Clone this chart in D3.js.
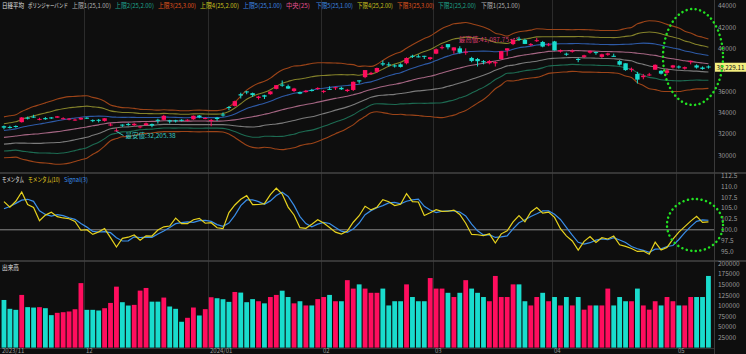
<!DOCTYPE html>
<meta charset="utf-8">
<script src="https://d3js.org/d3.v7.min.js"></script>
<style>
  body { margin: 0; background: #0e0e0e; }
  text { font-family: "Noto Sans CJK JP", "Noto Sans", sans-serif; }
</style>
<div id="chart"></div>
<script>

// trading days shown (2023/11/10 .. 2024/05/10)
var dates = [
  "2023-11-10","2023-11-13","2023-11-14","2023-11-15","2023-11-16","2023-11-17","2023-11-20","2023-11-21","2023-11-22","2023-11-24",
  "2023-11-27","2023-11-28","2023-11-29","2023-11-30","2023-12-01","2023-12-04","2023-12-05","2023-12-06","2023-12-07","2023-12-08",
  "2023-12-11","2023-12-12","2023-12-13","2023-12-14","2023-12-15","2023-12-18","2023-12-19","2023-12-20","2023-12-21","2023-12-22",
  "2023-12-25","2023-12-26","2023-12-27","2023-12-28","2023-12-29","2024-01-04","2024-01-05","2024-01-09","2024-01-10","2024-01-11",
  "2024-01-12","2024-01-15","2024-01-16","2024-01-17","2024-01-18","2024-01-19","2024-01-22","2024-01-23","2024-01-24","2024-01-25",
  "2024-01-26","2024-01-29","2024-01-30","2024-01-31","2024-02-01","2024-02-02","2024-02-05","2024-02-06","2024-02-07","2024-02-08",
  "2024-02-09","2024-02-13","2024-02-14","2024-02-15","2024-02-16","2024-02-19","2024-02-20","2024-02-21","2024-02-22","2024-02-26",
  "2024-02-27","2024-02-28","2024-02-29","2024-03-01","2024-03-04","2024-03-05","2024-03-06","2024-03-07","2024-03-08","2024-03-11",
  "2024-03-12","2024-03-13","2024-03-14","2024-03-15","2024-03-18","2024-03-19","2024-03-21","2024-03-22","2024-03-25","2024-03-26",
  "2024-03-27","2024-03-28","2024-03-29","2024-04-01","2024-04-02","2024-04-03","2024-04-04","2024-04-05","2024-04-08","2024-04-09",
  "2024-04-10","2024-04-11","2024-04-12","2024-04-15","2024-04-16","2024-04-17","2024-04-18","2024-04-19","2024-04-22","2024-04-23",
  "2024-04-24","2024-04-25","2024-04-26","2024-04-30","2024-05-01","2024-05-02","2024-05-07","2024-05-08","2024-05-09","2024-05-10"
];

var open = [
  32700,32630,32720,33080,33500,33600,33350,33460,33520,33500, 33400,33320,33280,33330,33500,33270,33300,33200,32800,32280,
  32850,32900,32800,32600,32800,32900,33300,33300,33250,33250, 33300,33250,33350,33700,33400,33194,33500,33800,34500,34600,
  35700,35960,35800,35350,35600,35700,36200,36600,36450,36000, 35900,35900,36100,36200,36000,36200,36300,36300,36000,36100,
  37000,37300,37600,37800,38600,38500,38400,38500,38600,39300, 39250,39300,39000,39500,40100,40400,39800,40000,39600,39100,
  39000,38800,38600,38600,39000,39800,40400,40900,40800,40300, 40700,40600,40300,40650,39700,39500,39700,39000,39200,39600,
  39650,39200,39400,39300,38800,38600,38000,37600,37300,37500, 38000,37900,37700,38200,38300,38100,38700,38400,38200,38300
];
var high = [
  32766,32750,32780,33560,33600,33770,33490,33560,33560,33660, 33540,33470,33420,33520,33550,33340,33380,33460,33000,32500,
  32880,33000,33000,32750,33050,32950,33400,33770,33300,33300, 33350,33350,33700,33750,33550,33377,33570,33990,34580,35100,
  35840,36008,35850,35550,35650,35990,36560,36985,36600,36300, 35950,36100,36200,36350,36100,36440,36400,36400,36200,36900,
  37000,37960,37800,38200,38865,38700,38500,38600,39157,39400, 39426,39300,39200,39990,40300,40400,40100,40200,40000,39200,
  39100,38900,38900,38800,39750,40010,40830,41087.75,40900,40500, 40980,40700,40500,40700,39900,39600,39900,39100,39400,39800,
  39700,39500,39600,39500,38900,38600,38200,37800,37600,37700, 38500,37950,38100,38450,38400,38300,38860,38500,38300,38400
];
var low = [
  32410,32480,32560,33040,33330,33480,33250,33300,33380,33480, 33340,33250,33200,33290,33380,33080,33050,33130,32700,32205.38,
  32640,32740,32700,32500,32750,32600,32950,33250,32950,33050, 33150,33150,33300,33450,33350,32693,33200,33600,34200,34550,
  35300,35700,35450,35200,35250,35650,36150,36400,36200,35900, 35700,35850,35950,36100,35800,36100,36100,36100,35900,36000,
  36700,37200,37500,37700,38350,38300,38200,38200,38500,39100, 39150,39000,38900,39450,39900,39900,39500,39500,39400,38700,
  38300,38500,38500,38300,38950,39300,40300,40700,40400,40200, 40600,40100,40200,39800,39600,39300,39600,38700,39100,39500,
  39400,39100,39300,39200,38400,37900,37800,36700,37100,37400, 38000,37550,37500,38100,38100,38000,38500,38100,38000,38100
];
var close = [
  32568,32586,32696,33520,33424,33585,33388,33354,33452,33626, 33448,33409,33321,33487,33432,33231,33232,33446,32858,32308,
  32792,32844,32927,32686,32971,32759,33220,33676,33141,33170, 33255,33306,33682,33540,33464,33288,33377,33763,34441,35050,
  35578,35901,35620,35478,35467,35964,36547,36518,36227,36237, 35751,36027,36066,36287,36011,36158,36355,36160,36120,36863,
  36897,37964,37704,38158,38488,38470,38364,38262,39099,39234, 39240,39208,39166,39911,40110,40098,40091,39599,39689,38820,
  38797,38696,38807,38708,39740,40004,40816,40888,40414,40398, 40763,40168,40369,39803,39838,39451,39773,38992,39347,39773,
  39582,39443,39524,39233,38471,37962,38080,37068,37439,37552, 38460,37628,37935,38406,38274,38236,38835,38202,38074,38229.11
];

// closes of the 24 sessions before the first bar (needed by the 25-day bands and momentum)
var prevClose = [
  31075,30995,31746,32041,32494,32316,31660,31952,32042,31431,31259,31000,
  31063,31270,30602,30992,30697,30859,31602,31950,32709,32272,32166,32647
];

var volume = [
  113000,92000,89600,125000,96000,95000,96000,93500,77000,82500, 84000,85700,91000,153000,89600,89600,88000,93500,106000,144600,
  107700,99800,101400,135200,141500,109000,109000,118700,97500,92000, 61300,70700,95100,76200,91200,119500,117100,114800,108500,132000,
  130500,107700,115000,110000,105000,120000,125000,135000,120000,105000, 110000,100000,100000,115000,120000,125000,110000,110000,160000,140000,
  150000,140000,130000,130000,140000,100000,110000,110000,150000,120000, 110000,110000,165000,140000,140000,130000,120000,130000,160000,140000,
  130000,120000,110000,170000,120000,120000,150000,150000,110000,100000, 120000,130000,110000,120000,100000,120000,100000,120000,90000,100000,
  100000,100000,140000,100000,120000,110000,110000,140000,100000,90000, 110000,100000,120000,110000,100000,100000,120000,120000,120000,170000
];

var priceTicks = [30000,32000,34000,36000,38000,40000,42000,44000];
var momTicks = [95,97.5,100,102.5,105,107.5,110,112.5];
var volTicks = [25000,50000,75000,100000,125000,150000,175000,200000];
var monthStarts = ["2023-12-01","2024-01-04","2024-02-01","2024-03-01","2024-04-01","2024-05-01"];
var monthLabels = ["12","2024/01","02","03","04","05"];

// header items: text, colour, left x, right x
var bandLegend = [
  ["日経平均", "#e0e0e0", 2, 24], ["ボリンジャーバンド", "#e0e0e0", 28, 68],
  ["上限1(25,1.00)", "#b0b0b0", 72, 111], ["上限2(25,2.00)", "#1fa38c", 115, 154], ["上限3(25,3.00)", "#e0541e", 158, 196],
  ["上限4(25,2.00)", "#c9c21e", 200, 239], ["上限5(25,1.00)", "#3d86e0", 243, 282], ["中央(25)", "#e0508e", 286, 311],
  ["下限5(25,1.00)", "#3d86e0", 316, 353], ["下限4(25,2.00)", "#c9c21e", 357, 393], ["下限3(25,3.00)", "#e0541e", 397, 434],
  ["下限2(25,2.00)", "#1fa38c", 438, 476], ["下限1(25,1.00)", "#b0b0b0", 481, 520]
];
var momLegend = [
  ["モメンタム", "#e0e0e0", 2, 24], ["モメンタム(10)", "#e6d21e", 28, 60], ["Signal(3)", "#3a8ee8", 64, 88]
];

var W = 746, H = 354, plotRight = 714;
var UP = "#ff0d5e", DOWN = "#19dccd";

var svg = d3.select("#chart").append("svg")
    .attr("width", W).attr("height", H)
    .style("display", "block").style("background", "#0e0e0e");

var x = d3.scaleBand().domain(dates).range([1, 1 + dates.length * 5.92]).padding(0);
var cx = function(d) { return x(d) + x.bandwidth() / 2; };

var y = d3.scaleLinear().domain([30000, 44000]).range([155, 5.7]);
var yM = d3.scaleLinear().domain([95, 110]).range([251.7, 186]);
var yV = d3.scaleLinear().domain([0, 200000]).range([347.6, 263.3]);

// indicators
var allClose = prevClose.concat(close), off = prevClose.length;
function bandLine(k) {
  return close.map(function(c, i) {
    var w = allClose.slice(i + off - 24, i + off + 1);
    var m = d3.mean(w);
    var sd = Math.sqrt(d3.mean(w, function(v) { return (v - m) * (v - m); }));
    return m + k * sd;
  });
}
function mom(j) { return allClose[j] / allClose[j - 10] * 100; }
var momentum = close.map(function(c, i) { return mom(i + off); });
var signal = close.map(function(c, i) { return (mom(i + off) + mom(i + off - 1) + mom(i + off - 2)) / 3; });

// squeeze a text horizontally into [x0, x1]
function fitText(sel, x0, x1, yy) {
  sel.each(function() {
    var w = this.getComputedTextLength();
    var s = Math.min(1, (x1 - x0) / w);
    d3.select(this).attr("transform", "translate(" + x0 + "," + yy + ") scale(" + s + ",1)");
  });
}

// grid
var grid = svg.append("g");
grid.selectAll("line.v").data(monthStarts).enter().append("line")
    .attr("x1", function(d) { return Math.round(x(d)) + 0.5; })
    .attr("x2", function(d) { return Math.round(x(d)) + 0.5; })
    .attr("y1", 0).attr("y2", 348)
    .attr("stroke", "#2b2b2b");
grid.append("line").attr("x1", plotRight + 0.5).attr("x2", plotRight + 0.5).attr("y1", 0).attr("y2", H)
    .attr("stroke", "#3a3a3a");
[173, 261].forEach(function(yy) {
  grid.append("line").attr("x1", 0).attr("x2", W).attr("y1", yy).attr("y2", yy)
      .attr("stroke", "#444").attr("stroke-width", 1.5);
});
grid.append("line").attr("x1", 0).attr("x2", plotRight).attr("y1", 348.5).attr("y2", 348.5).attr("stroke", "#333");

// panel 1 : bands
var p1 = svg.append("g");
var bands = [
  [3, "#9c4418"], [2, "#84822a"], [1, "#2e5aa6"], [0, "#a56683"],
  [-1, "#7c7c7c"], [-2, "#1d6b52"], [-3, "#9c4418"]
];
var line = d3.line().x(function(d, i) { return cx(dates[i]); }).y(function(d) { return y(d); }).curve(d3.curveMonotoneX);
bands.forEach(function(b) {
  p1.append("path").datum(bandLine(b[0]))
      .attr("d", line).attr("fill", "none").attr("stroke", b[1]).attr("stroke-width", 1.1);
});

// candles
var candle = p1.selectAll("g.c").data(dates).enter().append("g");
candle.append("line")
    .attr("x1", function(d) { return cx(d); }).attr("x2", function(d) { return cx(d); })
    .attr("y1", function(d, i) { return y(high[i]); }).attr("y2", function(d, i) { return y(low[i]); })
    .attr("stroke", function(d, i) { return close[i] >= open[i] ? UP : DOWN; });
candle.append("rect")
    .attr("x", function(d) { return cx(d) - 2.2; }).attr("width", 4.4)
    .attr("y", function(d, i) { return y(Math.max(open[i], close[i])); })
    .attr("height", function(d, i) { return Math.max(1, Math.abs(y(open[i]) - y(close[i]))); })
    .attr("fill", function(d, i) { return close[i] >= open[i] ? UP : DOWN; });

// high / low marks
var hi = d3.maxIndex(high), lo = d3.minIndex(low);
var fmt = d3.format(",.2f");
p1.append("line").attr("x1", cx(dates[hi]) - 1).attr("y1", y(high[hi]) + 1)
    .attr("x2", cx(dates[hi]) - 9).attr("y2", y(high[hi]) + 3)
    .attr("stroke", "#d03a6a").attr("stroke-dasharray", "2,1");
p1.append("text").attr("x", cx(dates[hi]) - 10).attr("y", y(high[hi]) + 5.5)
    .attr("text-anchor", "end").attr("fill", "#d03a6a").style("font-size", "6.5px")
    .text("最高値:" + fmt(high[hi]));
p1.append("line").attr("x1", cx(dates[lo])).attr("y1", y(low[lo]))
    .attr("x2", cx(dates[lo]) + 7).attr("y2", y(low[lo]) + 4)
    .attr("stroke", "#38c8c0");
p1.append("text").attr("x", cx(dates[lo]) + 9).attr("y", y(low[lo]) + 7)
    .attr("fill", "#38c8c0").style("font-size", "6.5px")
    .text("最安値:" + fmt(low[lo]));

// price axis
var axP = svg.append("g").attr("transform", "translate(" + (plotRight + 4) + ",0)")
    .call(d3.axisRight(y).tickValues(priceTicks).tickSize(0).tickPadding(0).tickFormat(d3.format("d")));
axP.select(".domain").remove();
axP.selectAll("text").attr("fill", "#9a9a9a").style("font-size", "6.5px");
axP.selectAll(".tick").filter(function(d) { return d === 38000; }).remove();

// last price tag
var last = close[close.length - 1];
svg.append("rect").attr("x", plotRight + 1).attr("y", y(last) - 4.5).attr("width", 31).attr("height", 9)
    .attr("fill", "#f3ee7e");
svg.append("text").attr("fill", "#111").style("font-size", "6.5px").text(fmt(last))
    .call(fitText, plotRight + 2.5, plotRight + 30.5, y(last) + 2.5);

// headers
function legend(items, yy) {
  var g = svg.append("g").style("font-size", "6.3px");
  items.forEach(function(d) {
    g.append("text").attr("fill", d[1]).text(d[0]).call(fitText, d[2], d[3], yy);
  });
}
legend(bandLegend, 7.5);
legend(momLegend, 181.5);
legend([["出来高", "#e0e0e0", 2, 19]], 269.5);

// panel 2 : momentum
var p2 = svg.append("g");
p2.append("line").attr("x1", 0).attr("x2", plotRight).attr("y1", yM(100)).attr("y2", yM(100))
    .attr("stroke", "#8a8a8a");
var lineM = d3.line().x(function(d, i) { return cx(dates[i]); }).y(function(d) { return yM(d); });
p2.append("path").datum(signal).attr("d", lineM).attr("fill", "none").attr("stroke", "#3a8ee8").attr("stroke-width", 1.2);
p2.append("path").datum(momentum).attr("d", lineM).attr("fill", "none").attr("stroke", "#e6d21e").attr("stroke-width", 1.2);
var axM = svg.append("g").attr("transform", "translate(" + (plotRight + 7) + ",0)")
    .call(d3.axisRight(yM).tickValues(momTicks).tickSize(0).tickPadding(0).tickFormat(d3.format(".1f")));
axM.select(".domain").remove();
axM.selectAll("text").attr("fill", "#9a9a9a").style("font-size", "6.5px");

// panel 3 : volume
var p3 = svg.append("g");
p3.selectAll("rect").data(dates).enter().append("rect")
    .attr("x", function(d) { return cx(d) - 2.4; }).attr("width", 4.8)
    .attr("y", function(d, i) { return yV(volume[i]); })
    .attr("height", function(d, i) { return yV(0) - yV(volume[i]); })
    .attr("fill", function(d, i) { return close[i] >= open[i] ? UP : DOWN; });
var axV = svg.append("g").attr("transform", "translate(" + (plotRight + 4) + ",0)")
    .call(d3.axisRight(yV).tickValues(volTicks).tickSize(0).tickPadding(0).tickFormat(d3.format("d")));
axV.select(".domain").remove();
axV.selectAll("text").attr("fill", "#9a9a9a").style("font-size", "6.5px");

// date labels
var dl = svg.append("g").style("font-size", "6px").attr("fill", "#9a9a9a");
dl.append("text").attr("x", 2).attr("y", 353).text("2023/11");
dl.selectAll("text.m").data(monthStarts).enter().append("text")
    .attr("x", function(d) { return Math.round(x(d)) + 2; }).attr("y", 353)
    .text(function(d, i) { return monthLabels[i]; });

// green dotted ellipses (annotation)
svg.append("ellipse").attr("cx", 693).attr("cy", 57).attr("rx", 30).attr("ry", 48)
    .attr("fill", "none").attr("stroke", "#22e022").attr("stroke-width", 2.5)
    .attr("stroke-dasharray", "0.1,4.5").attr("stroke-linecap", "round");
svg.append("ellipse").attr("cx", 695).attr("cy", 225).attr("rx", 28).attr("ry", 26)
    .attr("fill", "none").attr("stroke", "#22e022").attr("stroke-width", 2.5)
    .attr("stroke-dasharray", "0.1,4.5").attr("stroke-linecap", "round");

</script>
